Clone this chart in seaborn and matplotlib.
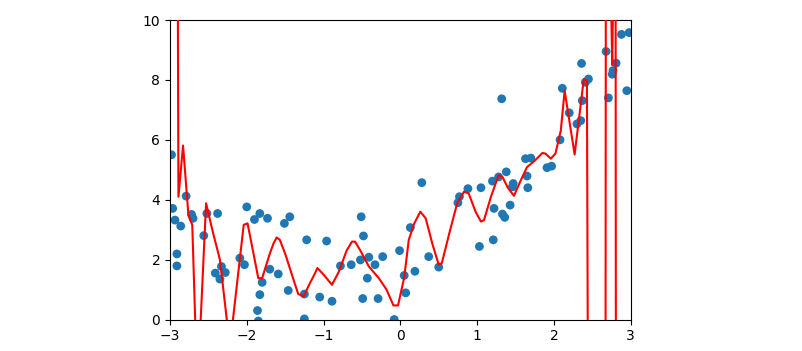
import numpy as np
import pandas as pd
import matplotlib
matplotlib.use('Agg')
import matplotlib.pyplot as plt
import seaborn as sns

# scattered samples
pts_x = [-2.98, -2.965, -2.935, -2.86, -2.91, -2.91, -2.79, -2.72, -2.70, -2.56,
         -2.52, -2.38, -2.41, -2.33, -2.28, -2.35, -2.09, -2.03, -2.00, -1.90,
         -1.83, -1.73, -1.80, -1.83, -1.86, -1.85, -1.70, -1.59, -1.51, -1.44,
         -1.46, -1.22, -1.25, -1.25, -1.05, -0.96, -0.89, -0.78, -0.64, -0.52,
         -0.51, -0.48, -0.41, -0.33, -0.43, -0.49, -0.29, -0.23, -0.08, -0.01,
         0.05, 0.07, 0.13, 0.19, 0.28, 0.37, 0.50, 0.75, 0.77, 0.88,
         1.05, 1.03, 1.21, 1.20, 1.22, 1.32, 1.28, 1.38, 1.33, 1.36,
         1.43, 1.47, 1.46, 1.63, 1.70, 1.65, 1.66, 1.91, 1.97, 2.08,
         2.11, 2.20, 2.30, 2.35, 2.37, 2.36, 2.45, 2.41, 2.68, 2.71,
         2.76, 2.77, 2.81, 2.88, 2.98, 2.95]
pts_y = [5.50, 3.71, 3.32, 3.12, 2.19, 1.79, 4.12, 3.51, 3.38, 2.80,
         3.54, 3.54, 1.55, 1.77, 1.57, 1.35, 2.05, 1.83, 3.76, 3.34,
         3.54, 3.38, 1.24, 0.83, 0.30, -0.05, 1.68, 1.52, 3.21, 3.43,
         0.97, 2.66, 0.85, 0.02, 0.75, 2.62, 0.61, 1.79, 1.83, 1.99,
         3.43, 2.79, 2.08, 1.83, 1.38, 0.70, 0.70, 2.10, 0.00, 2.30,
         1.47, 0.89, 3.07, 1.61, 4.57, 2.10, 1.75, 3.90, 4.10, 4.37,
         4.40, 2.44, 2.66, 4.62, 3.71, 7.37, 4.76, 4.93, 3.52, 3.41,
         3.82, 4.54, 4.43, 5.37, 5.39, 4.79, 4.40, 5.07, 5.12, 6.00,
         7.72, 6.90, 6.53, 6.64, 7.31, 8.55, 8.03, 7.92, 8.95, 7.40,
         8.19, 8.31, 8.56, 9.52, 9.58, 7.64]

# over-fitted curve (off-scale parts estimated)
fit_x = [-2.915, -2.89, -2.83, -2.76, -2.71, -2.66, -2.60, -2.53, -2.44, -2.35,
         -2.22, -2.04, -1.99, -1.92, -1.85, -1.80, -1.70, -1.65, -1.61, -1.57,
         -1.50, -1.40, -1.33, -1.26, -1.18, -1.11, -1.08, -1.00, -0.89, -0.80,
         -0.70, -0.63, -0.59, -0.52, -0.41, -0.28, -0.18, -0.09, -0.03, 0.05,
         0.11, 0.18, 0.26, 0.33, 0.42, 0.50, 0.54, 0.64, 0.74, 0.83,
         0.89, 0.98, 1.05, 1.09, 1.18, 1.28, 1.33, 1.40, 1.48, 1.56,
         1.65, 1.75, 1.85, 1.89, 1.96, 2.02, 2.09, 2.14, 2.27, 2.39,
         2.43, 2.48, 2.665, 2.68, 2.72, 2.76, 2.785, 2.80, 2.815, 3.0]
fit_y = [25.0, 4.10, 5.81, 3.49, 3.16, -1.0, 0.0, 3.88, 2.90, 2.00,
         -0.9, 3.16, 3.21, 2.30, 1.38, 1.38, 2.20, 2.55, 2.74, 2.66,
         2.20, 1.40, 0.85, 0.77, 1.20, 1.55, 1.72, 1.50, 1.16, 1.60,
         2.30, 2.60, 2.60, 2.30, 1.77, 1.38, 1.00, 0.47, 0.47, 1.40,
         2.66, 3.20, 3.60, 3.38, 2.50, 1.83, 1.88, 2.90, 3.88, 4.27,
         4.21, 3.60, 3.27, 3.32, 4.10, 4.82, 4.76, 4.40, 4.13, 4.60,
         5.09, 5.30, 5.56, 5.54, 5.37, 5.54, 6.31, 7.64, 5.51, 8.03,
         7.97, -30.0, -30.0, 25.0, 14.0, 8.5, 14.0, 25.0, -30.0, -30.0]

pts = pd.DataFrame({'x': pts_x, 'y': pts_y})
fit = pd.DataFrame({'x': fit_x, 'y': fit_y})

fig = plt.figure(figsize=(8.03, 3.51), dpi=100)
ax = fig.add_axes([0.2117, 0.0897, 0.5737, 0.8533])

sns.scatterplot(x='x', y='y', data=pts, color='tab:blue', s=40,
                edgecolor='none', linewidth=0, ax=ax, zorder=2)
sns.lineplot(x='x', y='y', data=fit, color='red', linewidth=1.5,
             estimator=None, sort=False, ax=ax, zorder=3)

ax.set_xlim(-3, 3)
ax.set_ylim(0, 10)
ax.set_xticks([-3, -2, -1, 0, 1, 2, 3])
ax.set_yticks([0, 2, 4, 6, 8, 10])
ax.set_xlabel('')
ax.set_ylabel('')
ax.tick_params(labelsize=10)

fig.savefig('out.png', dpi=100)
